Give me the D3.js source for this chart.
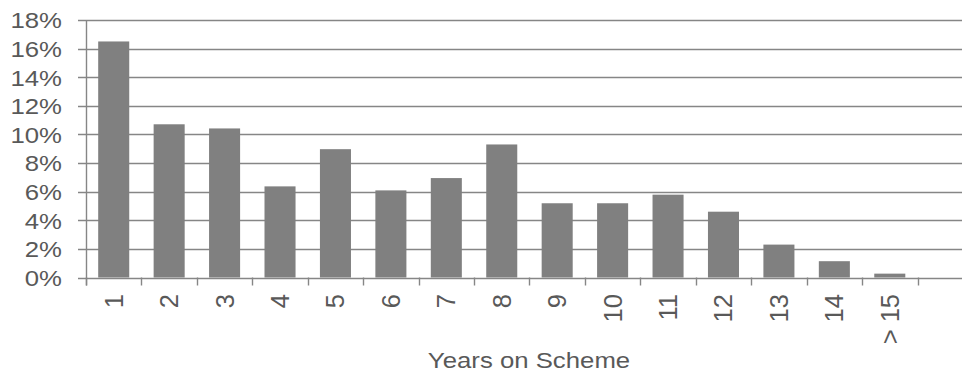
<!DOCTYPE html>
<html>
<head>
<meta charset="utf-8">
<script src="https://cdn.jsdelivr.net/npm/d3@7"></script>
<style>
  html, body { margin: 0; padding: 0; background: #fff; }
  svg { display: block; }
  text { font-family: "Liberation Sans", Arial, sans-serif; fill: #595959; }
</style>
</head>
<body>
<svg id="chart" width="962" height="371"></svg>
<script>
// Share of members by years on the scheme
const categories = ["1", "2", "3", "4", "5", "6", "7", "8", "9", "10", "11", "12", "13", "14", "> 15"];
const shares = [0.165, 0.1071, 0.1042, 0.0637, 0.0897, 0.0609, 0.0695, 0.093, 0.0519, 0.0519, 0.0579, 0.046, 0.023, 0.0114, 0.0027];
const yTickValues = [0, 0.02, 0.04, 0.06, 0.08, 0.10, 0.12, 0.14, 0.16, 0.18];
const xTitle = "Years on Scheme";

const plotLeft = 86, plotRight = 917.5, plotTop = 20, plotBottom = 277.5;
const gridEnd = 962;
const lineColor = "#868686";
const barColor = "#808080";
const labelSize = 23;      // y labels and axis title
const labelSx = 1.12;      // horizontal widening of horizontal text
const catSize = 25.5;      // rotated category labels

const svg = d3.select("#chart");

const x = d3.scaleBand()
  .domain(categories)
  .range([plotLeft, plotRight])
  .paddingInner(0.44)
  .paddingOuter(0.22);

const y = d3.scaleLinear()
  .domain([0, 0.18])
  .range([plotBottom, plotTop]);

const pct = d3.format(".0%");

// Horizontal gridlines (with left tick stubs)
svg.append("g")
  .selectAll("line")
  .data(yTickValues)
  .join("line")
  .attr("x1", plotLeft - 8)
  .attr("x2", gridEnd)
  .attr("y1", d => Math.round(y(d)) + 0.5)
  .attr("y2", d => Math.round(y(d)) + 0.5)
  .attr("stroke", lineColor)
  .attr("stroke-width", 1.4);

// Y axis labels
svg.append("g")
  .selectAll("text")
  .data(yTickValues)
  .join("text")
  .attr("transform", d => `translate(62,${y(d)}) scale(${labelSx},1)`)
  .attr("text-anchor", "end")
  .attr("dy", "0.36em")
  .attr("font-size", labelSize)
  .text(d => pct(d));

// Bars
svg.append("g")
  .selectAll("rect")
  .data(categories.map((c, i) => ({ c, v: shares[i] })))
  .join("rect")
  .attr("x", d => x(d.c))
  .attr("width", x.bandwidth())
  .attr("y", d => y(d.v))
  .attr("height", d => y(0) - y(d.v))
  .attr("fill", barColor);

// Y axis line
svg.append("line")
  .attr("x1", plotLeft + 0.5).attr("x2", plotLeft + 0.5)
  .attr("y1", y(0.18)).attr("y2", plotBottom + 8)
  .attr("stroke", lineColor)
  .attr("stroke-width", 1.4);

// X axis ticks at category boundaries
const boundaries = d3.range(categories.length + 1).map(i => plotLeft + i * x.step());
svg.append("g")
  .selectAll("line")
  .data(boundaries)
  .join("line")
  .attr("x1", d => Math.round(d) + 0.5)
  .attr("x2", d => Math.round(d) + 0.5)
  .attr("y1", plotBottom)
  .attr("y2", plotBottom + 8)
  .attr("stroke", lineColor)
  .attr("stroke-width", 1.4);

// X category labels, rotated
svg.append("g")
  .selectAll("text")
  .data(categories)
  .join("text")
  .attr("transform", d => `translate(${x(d) + x.bandwidth() / 2},294) rotate(-90)`)
  .attr("text-anchor", "end")
  .attr("dy", "0.35em")
  .attr("font-size", catSize)
  .text(d => d);

// X axis title
svg.append("text")
  .attr("transform", `translate(529,367.5) scale(${labelSx},1)`)
  .attr("text-anchor", "middle")
  .attr("font-size", labelSize)
  .text(xTitle);
</script>
</body>
</html>
